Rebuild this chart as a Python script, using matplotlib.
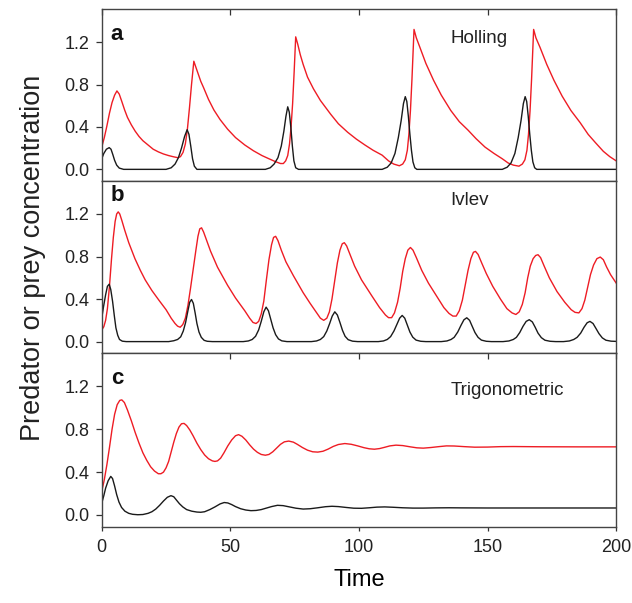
import matplotlib
matplotlib.use("Agg")
import matplotlib.pyplot as plt

plt.rcParams["font.family"] = ["Liberation Sans", "DejaVu Sans"]

# ---------------- data ----------------
# (a) Holling
holling_red_t = [0, 1, 2, 3, 4, 5, 5.9, 6.8, 7.8, 8.9, 10, 11.5, 13, 14.5, 16, 18, 20, 22, 24, 26,
                 28, 29.6, 30.6, 31.6, 32.5, 33.3, 34.1, 34.9, 35.8,
                 36.5, 37.5, 38.5, 39.6, 41.5, 43.6, 46, 48.9, 52, 55.6, 59, 62.3, 65, 67.6, 69.5,
                 70.6, 71.5, 72.3, 73, 73.6, 74.2, 74.8, 75.4,
                 76.2, 77.2, 78.3, 80, 82.3, 85, 89, 92, 95.6, 99, 102.3, 105.5, 109, 111.5, 113.5,
                 115.7, 117, 118, 118.8, 119.4, 120, 120.6, 121.4,
                 122.3, 123.7, 126, 129, 132, 135.7, 139, 142.4, 145.5, 149, 152.5, 155.7, 158,
                 160, 162.2, 163.5, 164.5, 165.3, 165.9, 166.5, 167.1, 167.9,
                 168.8, 170.4, 173, 175.8, 179, 182.4, 186, 189.1, 192, 195, 197.5, 200]
holling_red = [0.21, 0.30, 0.41, 0.53, 0.63, 0.70, 0.74, 0.71, 0.64, 0.56, 0.49, 0.42, 0.36, 0.31,
               0.27, 0.23, 0.19, 0.165, 0.145, 0.13, 0.118, 0.11, 0.12, 0.16, 0.24, 0.38, 0.58,
               0.80, 1.02,
               0.97, 0.90, 0.83, 0.77, 0.66, 0.56, 0.47, 0.38, 0.30, 0.23, 0.175, 0.13, 0.10,
               0.072, 0.055, 0.055, 0.08, 0.13, 0.24, 0.40, 0.62, 0.92, 1.25,
               1.18, 1.08, 0.99, 0.87, 0.76, 0.65, 0.52, 0.43, 0.35, 0.285, 0.23, 0.18, 0.134,
               0.08, 0.05, 0.034, 0.05, 0.09, 0.18, 0.33, 0.55, 0.85, 1.32,
               1.24, 1.15, 1.0, 0.84, 0.70, 0.555, 0.45, 0.37, 0.29, 0.21, 0.15, 0.10, 0.06,
               0.04, 0.03, 0.05, 0.09, 0.18, 0.33, 0.55, 0.85, 1.32,
               1.24, 1.15, 0.99, 0.84, 0.69, 0.555, 0.44, 0.33, 0.25, 0.17, 0.12, 0.08]
holling_black_t = [0, 0.8, 1.8, 2.9, 3.6, 4.3, 5, 5.8, 6.8, 8.5,
                   25, 27, 28.5, 29.8, 31, 32.2, 33.2, 33.9, 34.6, 35.3, 36, 37,
                   63.6, 65.5, 67, 68.5, 69.8, 70.8, 71.6, 72.3, 72.9, 73.5, 74.1, 74.7, 75.4, 76.5,
                   109, 111, 112.5, 114, 115.3, 116.4, 117.3, 118, 118.6, 119.2, 119.8, 120.4,
                   121, 121.7, 122.5,
                   155.7, 157.6, 159.1, 160.6, 161.9, 163, 163.9, 164.6, 165.2, 165.8, 166.4, 167,
                   167.6, 168.3, 169.1, 200]
holling_black = [0.10, 0.15, 0.19, 0.205, 0.19, 0.14, 0.085, 0.04, 0.012, 0.0,
                 0.0, 0.015, 0.05, 0.11, 0.20, 0.31, 0.374, 0.33, 0.22, 0.10, 0.03, 0.0,
                 0.0, 0.015, 0.05, 0.11, 0.22, 0.36, 0.50, 0.59, 0.54, 0.40, 0.22, 0.08, 0.015, 0.0,
                 0.0, 0.02, 0.06, 0.15, 0.30, 0.46, 0.62, 0.686, 0.64, 0.50, 0.33, 0.18, 0.07,
                 0.015, 0.0,
                 0.0, 0.02, 0.06, 0.15, 0.30, 0.46, 0.62, 0.686, 0.64, 0.50, 0.33, 0.18, 0.07,
                 0.015, 0.0, 0.0]

# (b) Ivlev
ivlev_red_t = [0, 0.8, 1.5, 2.2, 3, 3.8, 4.5, 5.2, 5.8, 6.4, 7, 7.8, 8.9, 10.5, 12.9, 15, 16.9,
               19.5, 22.2, 25, 27, 28.5, 29.5, 30.5, 31.5, 32.5, 33.5, 34.5, 35.6, 36.6, 37.4,
               38.1, 38.8, 39.6, 40.8, 42.3, 45, 48.9, 52, 55.6, 57.5, 58.8, 60, 61, 62, 63, 64,
               65, 66, 66.8, 67.6, 68.5, 69.8, 71.6, 74.5, 78.3, 81, 83.6, 85, 86.3, 87.5, 88.5,
               89.5, 90.5, 91.6, 92.6, 93.5, 94.3, 95.2, 96.5, 98.3, 101, 105, 108, 110.3, 111.5,
               112.7, 113.8, 115, 116, 117, 118, 119, 120, 121, 122.3, 124.4, 127, 130.4, 133,
               135, 136.5, 137.8, 139, 140.2, 141.3, 142.4, 143.5, 144.5, 145.3, 146.3, 147.7,
               149.5, 152, 155, 157.5, 159.5, 161, 162.3, 163.5, 164.6, 165.6, 166.6, 167.7,
               168.7, 169.6, 170.6, 172, 174, 177, 180, 182.5, 184, 185.5, 186.7, 187.8, 188.9,
               190, 191.2, 192.5, 193.8, 195, 196.3, 197.8, 200]
ivlev_red = [0.11, 0.14, 0.20, 0.31, 0.52, 0.78, 0.98, 1.13, 1.20, 1.22, 1.20, 1.14, 1.05, 0.93,
             0.78, 0.67, 0.58, 0.48, 0.39, 0.30, 0.22, 0.17, 0.145, 0.135, 0.16, 0.22, 0.34,
             0.50, 0.69, 0.86, 0.99, 1.06, 1.07, 1.03, 0.95, 0.85, 0.70, 0.53, 0.41, 0.29, 0.22,
             0.18, 0.17, 0.19, 0.26, 0.38, 0.58, 0.77, 0.91, 0.98, 0.99, 0.95, 0.86, 0.75, 0.62,
             0.46, 0.36, 0.27, 0.22, 0.20, 0.22, 0.28, 0.40, 0.56, 0.74, 0.86, 0.92, 0.93, 0.90,
             0.82, 0.71, 0.58, 0.43, 0.32, 0.25, 0.225, 0.225, 0.27, 0.37, 0.50, 0.66, 0.78,
             0.86, 0.885, 0.86, 0.79, 0.67, 0.55, 0.42, 0.32, 0.265, 0.24, 0.24, 0.29, 0.39,
             0.53, 0.67, 0.78, 0.84, 0.848, 0.82, 0.74, 0.64, 0.52, 0.40, 0.31, 0.27, 0.255,
             0.28, 0.35, 0.46, 0.60, 0.71, 0.78, 0.81, 0.817, 0.79, 0.71, 0.60, 0.47, 0.37,
             0.30, 0.275, 0.27, 0.31, 0.39, 0.51, 0.63, 0.72, 0.78, 0.795, 0.77, 0.70, 0.63,
             0.55]
ivlev_black_t = [0, 0.7, 1.5, 2.2, 2.9, 3.5, 4.2, 4.9, 5.5, 6.2, 6.9, 8, 9.5,
                 26, 28, 29.5, 30.7, 31.7, 32.6, 33.5, 34.2, 34.9, 35.6, 36.3, 37, 37.8, 38.7,
                 39.8, 41, 43,
                 55, 57, 58.5, 59.8, 61, 62, 63, 63.9, 64.8, 65.7, 66.6, 67.6, 68.7, 70, 72,
                 81.5, 83.5, 85, 86.3, 87.5, 88.6, 89.6, 90.6, 91.6, 92.6, 93.6, 94.6, 95.8,
                 97.5, 99.5,
                 107.5, 109.5, 111, 112.3, 113.6, 114.8, 115.8, 116.8, 117.8, 118.8, 119.8,
                 120.9, 122.2, 124, 126,
                 132, 134.2, 135.8, 137, 138.4, 139.7, 140.8, 141.9, 143, 144, 145.1, 146.3,
                 147.6, 149.5, 151.5,
                 156, 158.3, 160, 161.2, 162.5, 163.8, 165, 166.2, 167.4, 168.5, 169.6, 170.9,
                 172.3, 174.3, 176.5,
                 179.5, 181.8, 183.5, 184.8, 186.2, 187.5, 188.7, 189.8, 191, 192.1, 193.3,
                 194.6, 196, 198, 200]
ivlev_black = [0.22, 0.33, 0.44, 0.52, 0.54, 0.49, 0.38, 0.24, 0.13, 0.06, 0.02, 0.004, 0.0,
               0.0, 0.008, 0.02, 0.045, 0.10, 0.18, 0.29, 0.37, 0.396, 0.36, 0.27, 0.17, 0.09,
               0.04, 0.012, 0.003, 0.0,
               0.0, 0.006, 0.02, 0.05, 0.11, 0.19, 0.28, 0.324, 0.29, 0.21, 0.13, 0.065, 0.025,
               0.007, 0.0,
               0.0, 0.006, 0.02, 0.047, 0.10, 0.17, 0.24, 0.28, 0.25, 0.18, 0.105, 0.05, 0.018,
               0.004, 0.0,
               0.0, 0.006, 0.02, 0.047, 0.10, 0.165, 0.22, 0.246, 0.22, 0.155, 0.09, 0.042,
               0.014, 0.003, 0.0,
               0.0, 0.006, 0.02, 0.04, 0.09, 0.155, 0.205, 0.224, 0.20, 0.145, 0.085, 0.04,
               0.014, 0.003, 0.0,
               0.0, 0.006, 0.02, 0.04, 0.085, 0.145, 0.19, 0.206, 0.185, 0.135, 0.08, 0.037,
               0.013, 0.003, 0.0,
               0.0, 0.006, 0.02, 0.04, 0.08, 0.135, 0.177, 0.19, 0.17, 0.125, 0.075, 0.035,
               0.013, 0.004, 0.002]

# (c) Trigonometric
trig_red_t = [0, 1, 2, 3, 4, 5, 6, 7, 7.8, 8.8, 10, 11.5, 13, 14.5, 16, 17.5, 19, 20.5, 22, 23,
              24, 25, 26, 27, 28, 29, 30, 31, 32, 33, 34.2, 35.5, 37, 38.5, 40, 41.5, 43, 44, 45,
              46.2, 47.5, 49, 50.5, 52, 53.2, 54.5, 56, 57.5, 59, 60.5, 62, 63.6, 65, 66.5, 68,
              69.5, 71, 72.7, 74.5, 76, 78, 80, 82, 84, 86, 88, 90, 92, 94.5, 97, 99.5, 102,
              104, 106, 108, 110, 112, 114.4, 117, 120, 122.5, 125, 128, 131, 134, 137, 141,
              145, 150, 155, 160, 170, 185, 200]
trig_red = [0.22, 0.33, 0.47, 0.63, 0.80, 0.94, 1.03, 1.07, 1.075, 1.05, 0.98, 0.88, 0.77, 0.67,
            0.58, 0.51, 0.45, 0.41, 0.385, 0.385, 0.40, 0.44, 0.50, 0.59, 0.68, 0.76, 0.82,
            0.852, 0.855, 0.835, 0.795, 0.74, 0.67, 0.61, 0.56, 0.525, 0.505, 0.50, 0.505,
            0.53, 0.58, 0.645, 0.70, 0.74, 0.75, 0.735, 0.70, 0.655, 0.615, 0.585, 0.565,
            0.558, 0.565, 0.59, 0.625, 0.66, 0.683, 0.69, 0.68, 0.66, 0.63, 0.605, 0.59,
            0.587, 0.595, 0.615, 0.64, 0.658, 0.667, 0.66, 0.645, 0.628, 0.618, 0.614, 0.62,
            0.632, 0.645, 0.652, 0.648, 0.636, 0.627, 0.624, 0.63, 0.638, 0.645, 0.644, 0.638,
            0.633, 0.634, 0.638, 0.639, 0.637, 0.636, 0.636]
trig_black_t = [0, 0.8, 1.5, 2.5, 3.5, 4.2, 5, 5.8, 6.7, 7.7, 9, 10.5, 12, 14, 16, 18, 19.5, 21,
                22.5, 24, 25.5, 26.9, 28, 29, 30.2, 31.5, 33, 35, 37, 38.5, 40, 42, 44, 46, 47.6,
                49, 50.5, 52, 54, 56, 58, 60, 62, 64, 66, 68.3, 70.5, 73, 75.5, 78.3, 81, 84, 87,
                89.5, 92, 95, 98, 101, 104, 107, 110, 113, 117, 121, 125, 130, 135, 140, 150, 200]
trig_black = [0.11, 0.18, 0.25, 0.32, 0.36, 0.34, 0.27, 0.19, 0.12, 0.07, 0.035, 0.015, 0.006,
              0.002, 0.004, 0.015, 0.03, 0.055, 0.09, 0.13, 0.165, 0.18, 0.17, 0.14, 0.105,
              0.075, 0.05, 0.035, 0.027, 0.025, 0.03, 0.05, 0.075, 0.103, 0.116, 0.112, 0.097,
              0.078, 0.058, 0.046, 0.04, 0.042, 0.05, 0.064, 0.078, 0.09, 0.087, 0.075, 0.063,
              0.055, 0.058, 0.067, 0.077, 0.081, 0.078, 0.07, 0.063, 0.062, 0.067, 0.073, 0.075,
              0.072, 0.067, 0.064, 0.064, 0.066, 0.067, 0.066, 0.065, 0.065]

panel_letters = ["a", "b", "c"]
panel_names = ["Holling", "Ivlev", "Trigonometric"]
yticks = [0.0, 0.4, 0.8, 1.2]
xticks = [0, 50, 100, 150, 200]

# ---------------- figure ----------------
fig = plt.figure(figsize=(6.32, 6.03), dpi=100)
left, right = 0.161, 0.975
edges = [0.9846, 0.6998, 0.4141, 0.1265]

series = [
    (holling_red_t, holling_red, holling_black_t, holling_black),
    (ivlev_red_t, ivlev_red, ivlev_black_t, ivlev_black),
    (trig_red_t, trig_red, trig_black_t, trig_black),
]
letter_y = [1.22, 1.32, 1.22]
name_y = [1.19, 1.28, 1.125]

for i in range(3):
    ax = fig.add_axes([left, edges[i + 1], right - left, edges[i] - edges[i + 1]])
    rt, ry, bt, by = series[i]
    ax.plot(rt, ry, color="#ee1c24", lw=1.0)
    ax.plot(bt, by, color="#1a1a1a", lw=1.0)

    ax.set_xlim(0, 200)
    ax.set_ylim(-0.11, 1.51)
    ax.set_yticks(yticks)
    ax.set_yticklabels(["%.1f" % v for v in yticks])
    ax.tick_params(axis="y", direction="out", length=4, width=0.9,
                   labelsize=13, pad=5, colors="#333333", labelcolor="#222222")
    ax.set_xticks(xticks)

    if i == 2:
        ax.tick_params(axis="x", direction="out", length=3, width=0.9,
                       labelsize=13, pad=6, colors="#333333", labelcolor="#222222")
        ax.set_xlabel("Time", fontsize=17, labelpad=9)
        # inward ticks along the top of panel c
        sec = ax.secondary_xaxis("top")
        sec.set_xticks(xticks)
        sec.tick_params(direction="in", length=4, width=0.9, labeltop=False, colors="#333333")
        sec.spines["top"].set_visible(False)
    else:
        ax.tick_params(axis="x", bottom=False, labelbottom=False, top=(i == 0),
                       direction="in", length=4, width=0.9, colors="#333333")

    for s in ax.spines.values():
        s.set_color("#444444")
        s.set_linewidth(1.0)

    ax.text(3.5, letter_y[i], panel_letters[i], fontsize=16, fontweight="bold", color="#111111")
    ax.text(135.5, name_y[i], panel_names[i], fontsize=13.5, color="#222222")

fig.text(0.052, 0.572, "Predator or prey concentration", rotation=90,
         ha="center", va="center", fontsize=19.5, color="#222222")

fig.savefig("out.png", dpi=100)
